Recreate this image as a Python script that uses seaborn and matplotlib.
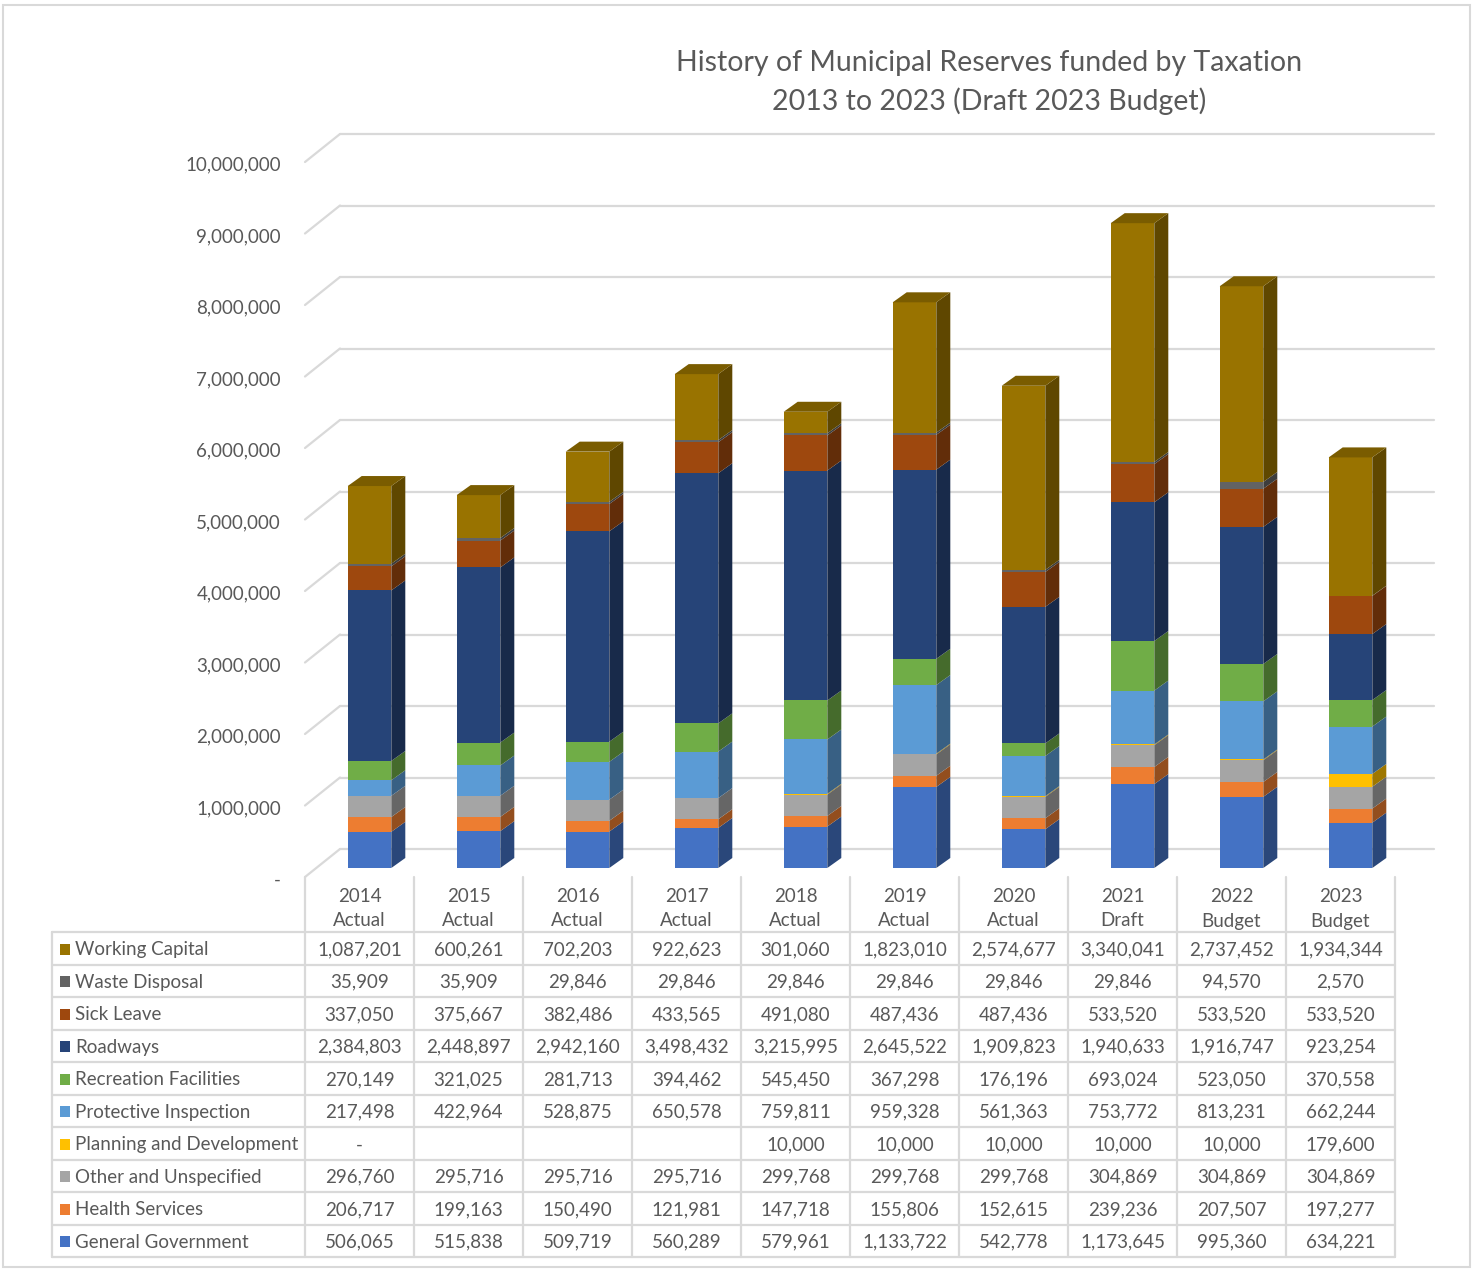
import numpy as np
import matplotlib
matplotlib.use("Agg")
import matplotlib.pyplot as plt
import matplotlib.colors as mcolors
from matplotlib.patches import Polygon, Rectangle
import seaborn as sns

sns.set_theme(style="white")
plt.rcParams["font.family"] = ["Lato", "DejaVu Sans"]

columns = ["2014\nActual", "2015\nActual", "2016\nActual", "2017\nActual", "2018\nActual",
           "2019\nActual", "2020\nActual", "2021\nDraft", "2022\nBudget", "2023\nBudget"]

general_government = [506065, 515838, 509719, 560289, 579961, 1133722, 542778, 1173645, 995360, 634221]
health_services = [206717, 199163, 150490, 121981, 147718, 155806, 152615, 239236, 207507, 197277]
other_unspecified = [296760, 295716, 295716, 295716, 299768, 299768, 299768, 304869, 304869, 304869]
planning_development = [0, np.nan, np.nan, np.nan, 10000, 10000, 10000, 10000, 10000, 179600]
protective_inspection = [217498, 422964, 528875, 650578, 759811, 959328, 561363, 753772, 813231, 662244]
recreation_facilities = [270149, 321025, 281713, 394462, 545450, 367298, 176196, 693024, 523050, 370558]
roadways = [2384803, 2448897, 2942160, 3498432, 3215995, 2645522, 1909823, 1940633, 1916747, 923254]
sick_leave = [337050, 375667, 382486, 433565, 491080, 487436, 487436, 533520, 533520, 533520]
waste_disposal = [35909, 35909, 29846, 29846, 29846, 29846, 29846, 29846, 94570, 2570]
working_capital = [1087201, 600261, 702203, 922623, 301060, 1823010, 2574677, 3340041, 2737452, 1934344]

# stacking order, bottom to top
series = [
    ("General Government", general_government),
    ("Health Services", health_services),
    ("Other and Unspecified", other_unspecified),
    ("Planning and Development", planning_development),
    ("Protective Inspection", protective_inspection),
    ("Recreation Facilities", recreation_facilities),
    ("Roadways", roadways),
    ("Sick Leave", sick_leave),
    ("Waste Disposal", waste_disposal),
    ("Working Capital", working_capital),
]

colors = {
    "General Government": "#4472C4",
    "Health Services": "#ED7D31",
    "Other and Unspecified": "#A5A5A5",
    "Planning and Development": "#FFC000",
    "Protective Inspection": "#5B9BD5",
    "Recreation Facilities": "#70AD47",
    "Roadways": "#264478",
    "Sick Leave": "#9E480E",
    "Waste Disposal": "#636363",
    "Working Capital": "#997300",
}

TEXT = "#595959"
GRID = "#D9D9D9"
W, H = 1474, 1270
FS = 13.5


def shade(c, f):
    r, g, b = mcolors.to_rgb(c)
    return (r * f, g * f, b * f)


fig = plt.figure(figsize=(W / 100, H / 100), dpi=100)

# overlay in pixel coordinates for the frame and data table
tab = fig.add_axes([0, 0, 1, 1])
tab.set_xlim(0, W)
tab.set_ylim(H, 0)
tab.axis("off")
tab.patch.set_alpha(0)

# --- Chart axes (bar plane) ---
px_per_m = 71.5
y_top = 10.2e6
ax_left, ax_right, ax_base = 305, 1395, 868
ax_h = y_top / 1e6 * px_per_m
ax = fig.add_axes([ax_left / W, (H - ax_base) / H, (ax_right - ax_left) / W, ax_h / H])
ax.set_xlim(-0.5, len(columns) - 0.5)
ax.set_ylim(0, y_top)
ax.axis("off")
ax.patch.set_alpha(0)

upy = 1e6 / px_per_m          # data units per pixel (y)
upx = 1 / 109                 # data units per pixel (x)
back_dy = 19 * upy
front_dy = 9 * upy


def px_to_x(px):
    return (px - ax_left) * upx - 0.5


levels = np.arange(0, 10_000_001, 1_000_000)
for v in levels:
    ax.plot([px_to_x(340), px_to_x(1434)], [v + back_dy, v + back_dy],
            color=GRID, lw=1.6, zorder=0, clip_on=False)
    ax.plot([px_to_x(305), px_to_x(340)], [v - front_dy, v + back_dy],
            color=GRID, lw=1.6, zorder=0, clip_on=False)
    label = "-" if v == 0 else f"{v:,.0f}"
    ax.text(px_to_x(281), v - 12 * upy, label, ha="right", va="center",
            fontsize=FS, color=TEXT, clip_on=False)

# --- 3D-look stacked columns ---
x = np.arange(len(columns))
bar_x = x + 10 * upx
bw = 0.40
dx = 14 * upx
dy = 10 * upy

bottom = np.zeros(len(columns))
for name, vals in series:
    h = np.nan_to_num(np.array(vals, dtype=float))
    c = colors[name]
    ax.bar(bar_x, h, width=bw, bottom=bottom, color=c, linewidth=0, zorder=2)
    for i in range(len(columns)):
        if h[i] <= 0:
            continue
        xr = bar_x[i] + bw / 2
        b0, b1 = bottom[i], bottom[i] + h[i]
        ax.add_patch(Polygon([(xr, b0), (xr + dx, b0 + dy), (xr + dx, b1 + dy), (xr, b1)],
                             closed=True, facecolor=shade(c, 0.62), linewidth=0, zorder=2))
    bottom = bottom + h

# top faces on the uppermost segment
top_color = colors[series[-1][0]]
for i in range(len(columns)):
    xl, xr = bar_x[i] - bw / 2, bar_x[i] + bw / 2
    t = bottom[i]
    ax.add_patch(Polygon([(xl, t), (xr, t), (xr + dx, t + dy), (xl + dx, t + dy)],
                         closed=True, facecolor=shade(top_color, 0.8), linewidth=0, zorder=3))

# --- Title ---
fig.text(989 / W, 1 - 63 / H, "History of Municipal Reserves funded by Taxation",
         ha="center", va="center", fontsize=20.5, color=TEXT)
fig.text(989 / W, 1 - 101 / H, "2013 to 2023 (Draft 2023 Budget)",
         ha="center", va="center", fontsize=20.5, color=TEXT)

# --- Data table ---
col_edges = [ax_left + 109 * k for k in range(len(columns) + 1)]
lab_left = 52
head_top, row_top, row_h = 877, 932, 32.5
rows = series[::-1]
row_bottom = row_top + row_h * len(rows)

for e in col_edges:
    tab.plot([e, e], [head_top, row_bottom], color=GRID, lw=1.6)
tab.plot([lab_left, lab_left], [row_top, row_bottom], color=GRID, lw=1.6)
for r in range(len(rows) + 1):
    yy = row_top + r * row_h
    tab.plot([lab_left, col_edges[-1]], [yy, yy], color=GRID, lw=1.6)

for k, lab in enumerate(columns):
    cx = (col_edges[k] + col_edges[k + 1]) / 2
    top_line, bot_line = lab.split("\n")
    tab.text(cx, 897, top_line, ha="center", va="center", fontsize=FS, color=TEXT)
    tab.text(cx, 921, bot_line, ha="center", va="center", fontsize=FS, color=TEXT)

for r, (name, vals) in enumerate(rows):
    cy = row_top + (r + 0.5) * row_h + 1.5
    tab.add_patch(Rectangle((60, cy - 6), 10, 11, facecolor=colors[name], linewidth=0))
    tab.text(75, cy, name, ha="left", va="center", fontsize=FS, color=TEXT)
    for k, v in enumerate(vals):
        cx = (col_edges[k] + col_edges[k + 1]) / 2
        if np.isnan(v):
            s = ""
        elif v == 0:
            s = "-"
        else:
            s = f"{v:,.0f}"
        tab.text(cx, cy, s, ha="center", va="center", fontsize=FS, color=TEXT)

# outer frame
tab.add_patch(Rectangle((3, 5), W - 7, H - 8, facecolor="none", edgecolor=GRID, lw=1.5))

fig.savefig("out.png", dpi=100, facecolor="white")
plt.close(fig)
